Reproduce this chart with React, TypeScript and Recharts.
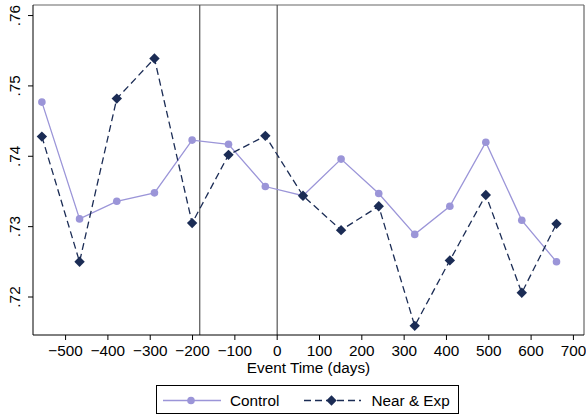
import React from "react";
import { LineChart, Line, XAxis, YAxis, ReferenceLine } from "recharts";

const eventDays = [-556, -467, -379, -290, -201, -115, -28, 61, 151, 240, 325, 408, 493, 578, 660];
const controlValues = [0.7477, 0.7311, 0.7336, 0.7348, 0.7423, 0.7417, 0.7357, 0.7344, 0.7396, 0.7347, 0.7289, 0.7329, 0.742, 0.7309, 0.725];
const nearExpValues = [0.7428, 0.725, 0.7482, 0.7539, 0.7305, 0.7402, 0.7429, 0.7344, 0.7295, 0.7329, 0.7159, 0.7252, 0.7345, 0.7206, 0.7304];
const xTicks = [-500, -400, -300, -200, -100, 0, 100, 200, 300, 400, 500, 600, 700];
const yTicks = [0.72, 0.73, 0.74, 0.75, 0.76];
const eventLines = [-183, 0];
const seriesNames = ["Control", "Near & Exp"];

const X_MIN = -577;
const X_MAX = 725;
const Y_MIN = 0.7146;
const Y_MAX = 0.7615;

const CONTROL_COLOR = "#9b95d8";
const NEAR_COLOR = "#1b2c55";
const FONT = "'Liberation Sans', Arial, sans-serif";
const FS = 15.3;

const data = eventDays.map((d, i) => ({
  day: d,
  control: controlValues[i],
  nearExp: nearExpValues[i],
}));

const Diamond = (props: any) => {
  const { cx, cy, index } = props;
  if (cx == null || cy == null) return <g key={`d-${index}`} />;
  const s = 5.2;
  return (
    <polygon
      key={`d-${index}`}
      points={`${cx},${cy - s} ${cx + s},${cy} ${cx},${cy + s} ${cx - s},${cy}`}
      fill={NEAR_COLOR}
    />
  );
};

const YTick = (props: any) => {
  const { x, y, payload } = props;
  const label = Number(payload.value).toFixed(2).replace(/^0/, "");
  return (
    <text
      transform={`translate(${x}, ${y}) rotate(-90)`}
      textAnchor="middle"
      fontSize={FS}
      fontFamily={FONT}
      fill="#000"
    >
      {label}
    </text>
  );
};

const XTick = (props: any) => {
  const { x, y, payload } = props;
  const v = Number(payload.value);
  const label = v < 0 ? `\u2212${Math.abs(v)}` : `${v}`;
  return (
    <text x={x} y={y} dy="0.71em" textAnchor="middle" fontSize={FS} fontFamily={FONT} fill="#000">
      {label}
    </text>
  );
};

const XLabel = (props: any) => {
  const vb = props.viewBox || {};
  return (
    <text
      x={vb.x + vb.width / 2}
      y={vb.y + 37.8}
      textAnchor="middle"
      fontSize={FS}
      fontFamily={FONT}
      fill="#000"
    >
      Event Time (days)
    </text>
  );
};

export default function App() {
  return (
    <div style={{ position: "absolute", left: 0, top: 0, width: 586, height: 418, background: "#fff" }}>
      <LineChart width={586} height={418} data={data} margin={{ top: 5, right: 2, left: 0, bottom: 0 }}>
        <XAxis
          dataKey="day"
          type="number"
          domain={[X_MIN, X_MAX]}
          ticks={xTicks}
          allowDataOverflow
          height={83}
          tickSize={5}
          tickMargin={5.5}
          stroke="#000"
          tick={<XTick />}
          label={<XLabel />}
        />
        <YAxis
          type="number"
          domain={[Y_MIN, Y_MAX]}
          ticks={yTicks}
          allowDataOverflow
          width={33}
          tickSize={5}
          tickMargin={8.5}
          stroke="#000"
          tick={<YTick />}
        />
        <ReferenceLine y={Y_MAX} stroke="#666" strokeWidth={1.2} ifOverflow="extendDomain" />
        <ReferenceLine x={X_MAX} stroke="#666" strokeWidth={1.2} ifOverflow="extendDomain" />
        {eventLines.map((x) => (
          <ReferenceLine key={x} x={x} stroke="#555" strokeWidth={1.2} />
        ))}
        <Line
          dataKey="control"
          name={seriesNames[0]}
          stroke={CONTROL_COLOR}
          strokeWidth={1.3}
          dot={{ r: 3.8, fill: CONTROL_COLOR, stroke: "none" }}
          isAnimationActive={false}
        />
        <Line
          dataKey="nearExp"
          name={seriesNames[1]}
          stroke={NEAR_COLOR}
          strokeWidth={1.3}
          strokeDasharray="7 4"
          dot={<Diamond />}
          isAnimationActive={false}
        />
      </LineChart>
      <svg
        style={{ position: "absolute", left: 156, top: 385 }}
        width={304}
        height={30}
      >
        <rect x={0.5} y={0.5} width={302} height={28} fill="#fff" stroke="#000" strokeWidth={1} />
        <line x1={7} y1={15.5} x2={65} y2={15.5} stroke={CONTROL_COLOR} strokeWidth={1.3} />
        <circle cx={35} cy={15.5} r={3.8} fill={CONTROL_COLOR} />
        <text x={74} y={20.8} fontSize={FS} fontFamily={FONT} fill="#000">
          {seriesNames[0]}
        </text>
        <line x1={148} y1={15.5} x2={205} y2={15.5} stroke={NEAR_COLOR} strokeWidth={1.3} strokeDasharray="7 4" />
        <polygon points="175.5,10.3 180.7,15.5 175.5,20.7 170.3,15.5" fill={NEAR_COLOR} />
        <text x={215.5} y={20.8} fontSize={FS} fontFamily={FONT} fill="#000">
          {seriesNames[1]}
        </text>
      </svg>
    </div>
  );
}
